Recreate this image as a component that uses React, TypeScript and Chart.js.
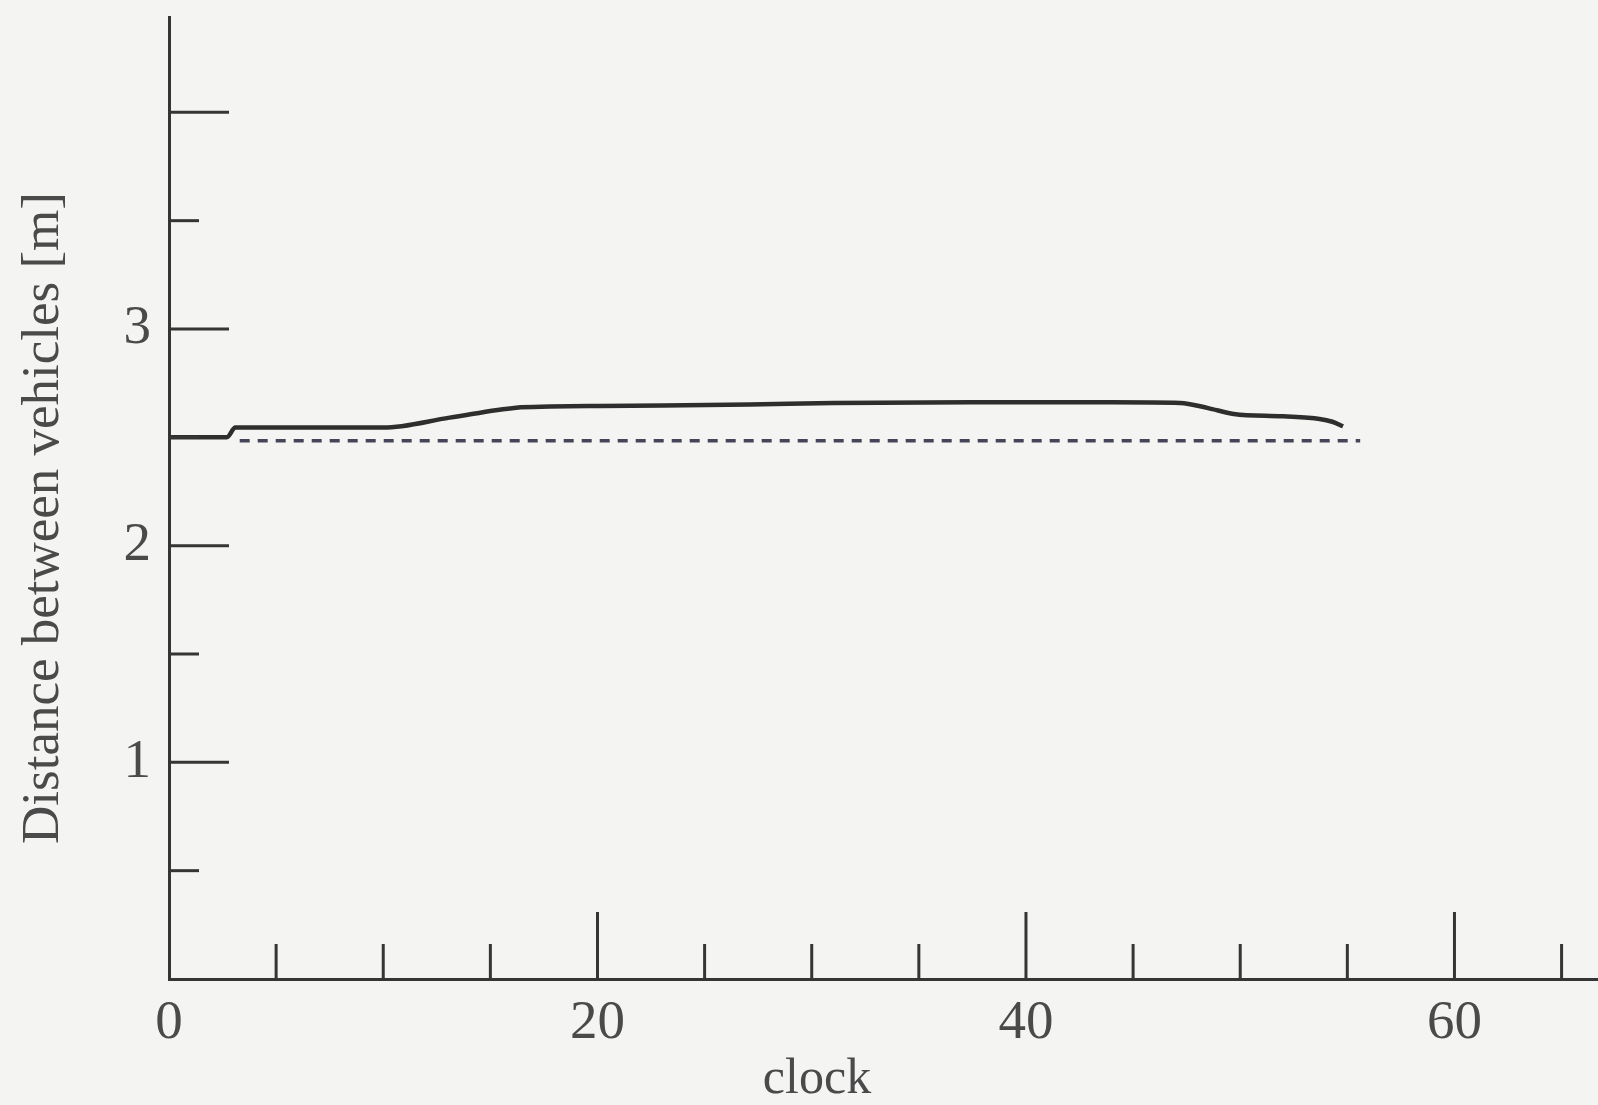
import React, { useEffect, useRef } from "react";
import { Chart, registerables } from "chart.js";

Chart.register(...registerables);

// ---- data ----
const solidTime = [0, 2.7, 3.1, 10.0, 13.1, 16.2, 17.8, 20.1, 27.1, 31.0, 38.8, 44.0, 47.2, 48.5, 49.7, 52.0, 53.7, 54.3, 54.8];
const solidDist = [2.5, 2.5, 2.545, 2.545, 2.591, 2.637, 2.642, 2.645, 2.651, 2.659, 2.662, 2.662, 2.659, 2.635, 2.608, 2.597, 2.585, 2.572, 2.551];
const targetTime = [3.3, 55.6];
const targetDist = [2.484, 2.484];

const xLabelTicks = [0, 20, 40, 60];
const yLabelTicks = [1, 2, 3];
const xMajorTicks = [20, 40, 60];
const xMinorTicks = [5, 10, 15, 25, 30, 35, 45, 50, 55, 65];
const yMajorTicks = [1, 2, 3, 4];
const yMinorTicks = [0.5, 1.5, 2.5, 3.5];

const xTitle = "clock";
const yTitle = "Distance between vehicles [m]";

// ---- styles ----
const W = 1598;
const H = 1105;
const BG = "#f4f4f2";
const AXIS = "#353535";
const TEXT = "#4a4a4a";
const FONT = '"Liberation Serif", "DejaVu Serif", "Times New Roman", serif';

const decorPlugin = {
  id: "decor",
  beforeDraw(chart: any) {
    const ctx = chart.ctx;
    ctx.save();
    ctx.fillStyle = BG;
    ctx.fillRect(0, 0, chart.width, chart.height);
    ctx.restore();
  },
  afterDraw(chart: any) {
    const ctx = chart.ctx;
    const xs = chart.scales.x;
    const ys = chart.scales.y;
    const x0 = xs.getPixelForValue(0);
    const y0 = ys.getPixelForValue(0);
    ctx.save();
    ctx.strokeStyle = AXIS;
    ctx.lineWidth = 3;
    ctx.lineCap = "butt";
    const vline = (v: number, len: number) => {
      const p = xs.getPixelForValue(v);
      ctx.beginPath();
      ctx.moveTo(p, y0);
      ctx.lineTo(p, y0 - len);
      ctx.stroke();
    };
    const hline = (v: number, len: number) => {
      const p = ys.getPixelForValue(v);
      ctx.beginPath();
      ctx.moveTo(x0, p);
      ctx.lineTo(x0 + len, p);
      ctx.stroke();
    };
    xMinorTicks.forEach((v) => vline(v, 35));
    xMajorTicks.forEach((v) => vline(v, 67));
    yMinorTicks.forEach((v) => hline(v, 30));
    yMajorTicks.forEach((v) => hline(v, 60));

    ctx.fillStyle = TEXT;
    ctx.font = `50px ${FONT}`;
    ctx.textAlign = "center";
    ctx.textBaseline = "alphabetic";
    ctx.fillText(xTitle, 817, 1093);

    ctx.font = `53px ${FONT}`;
    ctx.translate(58, 518);
    ctx.rotate(-Math.PI / 2);
    ctx.fillText(yTitle, 0, 0);
    ctx.restore();
  },
};

export default function App() {
  const ref = useRef<HTMLCanvasElement | null>(null);

  useEffect(() => {
    document.body.style.margin = "0";
    document.body.style.background = BG;
    const canvas = ref.current;
    if (!canvas) return;

    const chart = new Chart(canvas, {
      type: "line",
      data: {
        datasets: [
          {
            data: solidTime.map((t, i) => ({ x: t, y: solidDist[i] })),
            borderColor: "#2e2e2e",
            borderWidth: 4.5,
            pointRadius: 0,
            cubicInterpolationMode: "monotone",
            fill: false,
          },
          {
            data: targetTime.map((t, i) => ({ x: t, y: targetDist[i] })),
            borderColor: "#45455a",
            borderWidth: 3.5,
            borderDash: [10, 8],
            pointRadius: 0,
            fill: false,
          },
        ],
      },
      options: {
        responsive: false,
        maintainAspectRatio: false,
        animation: false,
        layout: { padding: { top: 17, right: 0, left: 0, bottom: 0 } },
        plugins: {
          legend: { display: false },
          tooltip: { enabled: false },
        },
        scales: {
          x: {
            type: "linear",
            min: 0,
            max: 66.7,
            grid: { display: false, drawTicks: false },
            border: { display: true, color: AXIS, width: 3 },
            ticks: {
              color: TEXT,
              font: { family: FONT, size: 55 },
              padding: 12,
              maxRotation: 0,
              autoSkip: false,
            },
            afterBuildTicks: (s: any) => {
              s.ticks = xLabelTicks.map((v) => ({ value: v }));
            },
            afterFit: (s: any) => {
              s.height = H - 979;
              s.paddingLeft = 0;
              s.paddingRight = 0;
            },
          },
          y: {
            type: "linear",
            min: 0,
            max: 4.44,
            grid: { display: false, drawTicks: false },
            border: { display: true, color: AXIS, width: 3 },
            ticks: {
              color: TEXT,
              font: { family: FONT, size: 55 },
              padding: 18,
              autoSkip: false,
            },
            afterBuildTicks: (s: any) => {
              s.ticks = yLabelTicks.map((v) => ({ value: v }));
            },
            afterFit: (s: any) => {
              s.width = 169;
              s.paddingTop = 0;
              s.paddingBottom = 0;
            },
          },
        },
      },
      plugins: [decorPlugin],
    } as any);

    return () => chart.destroy();
  }, []);

  return <canvas ref={ref} width={W} height={H} style={{ display: "block" }} />;
}
